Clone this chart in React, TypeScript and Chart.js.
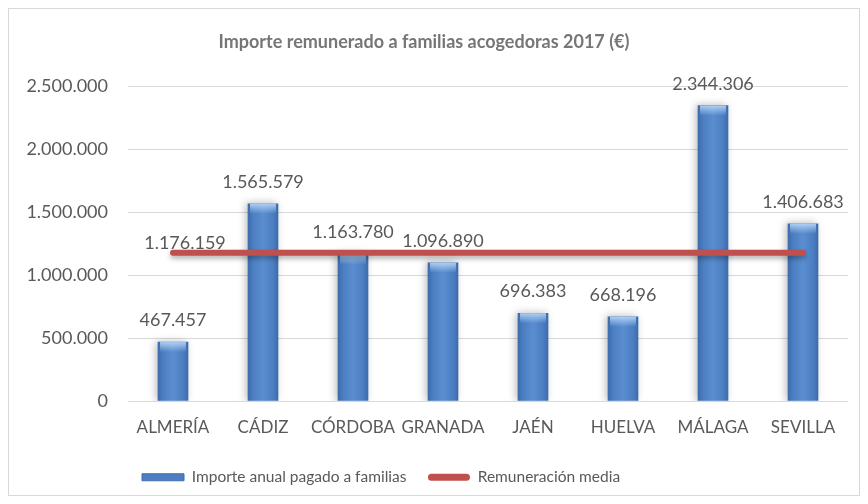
import React, { useEffect, useRef } from 'react';
import { Chart, registerables } from 'chart.js';

Chart.register(...registerables);

const titleText = 'Importe remunerado a familias acogedoras 2017 (€)';
const categories = ['ALMERÍA', 'CÁDIZ', 'CÓRDOBA', 'GRANADA', 'JAÉN', 'HUELVA', 'MÁLAGA', 'SEVILLA'];
const importeAnual = [467457, 1565579, 1163780, 1096890, 696383, 668196, 2344306, 1406683];
const remuneracionMedia = [1176159, 1176159, 1176159, 1176159, 1176159, 1176159, 1176159, 1176159];
const seriesNames = ['Importe anual pagado a familias', 'Remuneración media'];
const yMin = 0;
const yMax = 2500000;
const yStep = 500000;

const FONT = 'Lato, "Liberation Sans", sans-serif';
const TEXT = '#595959';
const BAR_DARK = '#3D6CAD';
const BAR_MID = '#4C7FC2';
const BAR_LIGHT = '#5A8ED1';
const LINE_RED = '#C0504D';
const LEGEND_PAD = 21.5;
const LEGEND_FONT = 15.5;

const fmt = (n: number) => String(Math.round(n)).replace(/\B(?=(\d{3})+(?!\d))/g, '.');

const shadowPlugin = {
  id: 'shadowPlugin',
  beforeDatasetDraw(chart: any, args: any) {
    const ctx = chart.ctx;
    ctx.save();
    if (args.meta.type === 'bar') {
      ctx.shadowColor = 'rgba(0,0,0,0.28)';
      ctx.shadowBlur = 8;
      ctx.shadowOffsetX = -2;
      ctx.shadowOffsetY = 0;
    } else {
      ctx.shadowColor = 'rgba(0,0,0,0.30)';
      ctx.shadowBlur = 5;
      ctx.shadowOffsetX = 0;
      ctx.shadowOffsetY = 3;
    }
  },
  afterDatasetDraw(chart: any) {
    chart.ctx.restore();
  },
};

const highlightPlugin = {
  id: 'highlightPlugin',
  afterDatasetDraw(chart: any, args: any) {
    if (args.meta.type !== 'bar') return;
    const ctx = chart.ctx;
    ctx.save();
    args.meta.data.forEach((bar: any) => {
      const { x, y, width } = bar.getProps(['x', 'y', 'width'], true);
      const g = ctx.createLinearGradient(0, y, 0, y + 10);
      g.addColorStop(0, 'rgba(190,220,250,0.85)');
      g.addColorStop(1, 'rgba(190,220,250,0)');
      ctx.fillStyle = g;
      ctx.fillRect(x - width / 2 + 2, y, width - 4, 10);
    });
    ctx.restore();
  },
};

const labelsPlugin = {
  id: 'labelsPlugin',
  afterDatasetsDraw(chart: any) {
    const ctx = chart.ctx;
    ctx.save();
    ctx.font = `18px ${FONT}`;
    ctx.fillStyle = TEXT;
    ctx.textAlign = 'center';
    ctx.textBaseline = 'alphabetic';
    const barMeta = chart.getDatasetMeta(0);
    barMeta.data.forEach((bar: any, i: number) => {
      const { x, y } = bar.getProps(['x', 'y'], true);
      ctx.fillText(fmt(chart.data.datasets[0].data[i]), x, y - 16);
    });
    const lineMeta = chart.getDatasetMeta(1);
    const p = lineMeta.data[0];
    if (p) {
      const { x, y } = p.getProps(['x', 'y'], true);
      ctx.fillText(fmt(chart.data.datasets[1].data[0]), x + 12, y - 4);
    }
    ctx.restore();
  },
};

const layoutTweakPlugin = {
  id: 'layoutTweakPlugin',
  afterLayout(chart: any) {
    if (chart.legend) chart.legend.left = 133 - LEGEND_PAD;
    if (chart.titleBlock) chart.titleBlock.right = 830;
  },
};

export default function App() {
  const ref = useRef<HTMLCanvasElement | null>(null);

  useEffect(() => {
    if (!ref.current) return;
    const chart = new Chart(ref.current, {
      type: 'bar',
      data: {
        labels: categories,
        datasets: [
          {
            type: 'bar',
            label: seriesNames[0],
            data: importeAnual,
            order: 2,
            barThickness: 30,
            backgroundColor: (c: any) => {
              const ch = c.chart;
              const xs = ch.scales && ch.scales.x;
              if (!xs || c.type !== 'data') return BAR_MID;
              const x = xs.getPixelForValue(c.dataIndex);
              const g = ch.ctx.createLinearGradient(x - 15, 0, x + 15, 0);
              g.addColorStop(0, BAR_DARK);
              g.addColorStop(0.18, BAR_MID);
              g.addColorStop(0.5, BAR_LIGHT);
              g.addColorStop(0.82, BAR_MID);
              g.addColorStop(1, BAR_DARK);
              return g;
            },
            borderWidth: 0,
          } as any,
          {
            type: 'line',
            label: seriesNames[1],
            data: remuneracionMedia,
            order: 1,
            borderColor: LINE_RED,
            backgroundColor: LINE_RED,
            borderWidth: 6,
            borderCapStyle: 'round',
            pointRadius: 0,
            pointHoverRadius: 0,
            fill: false,
            tension: 0,
          } as any,
        ],
      },
      options: {
        responsive: false,
        animation: false,
        events: [],
        layout: { padding: { left: 0, right: 11, top: 0, bottom: 0 } },
        plugins: {
          title: {
            display: true,
            text: titleText,
            color: '#767676',
            font: { family: FONT, size: 18, weight: 'bold' },
            padding: { top: 22.2, bottom: 33.2 },
          },
          legend: {
            display: true,
            position: 'bottom',
            align: 'start',
            labels: {
              font: { family: FONT, size: LEGEND_FONT },
              color: TEXT,
              boxWidth: 42,
              boxHeight: 7,
              padding: LEGEND_PAD,
              useBorderRadius: true,
              generateLabels: (ch: any) => [
                {
                  text: ch.data.datasets[0].label,
                  fillStyle: BAR_MID,
                  strokeStyle: BAR_DARK,
                  lineWidth: 1,
                  hidden: false,
                  datasetIndex: 0,
                  fontColor: TEXT,
                  borderRadius: 0,
                },
                {
                  text: ch.data.datasets[1].label,
                  fillStyle: LINE_RED,
                  strokeStyle: LINE_RED,
                  lineWidth: 0,
                  hidden: false,
                  datasetIndex: 1,
                  fontColor: TEXT,
                  borderRadius: 3.5,
                },
              ],
            },
          },
          tooltip: { enabled: false },
        },
        scales: {
          x: {
            grid: { display: false, drawTicks: false },
            border: { display: false },
            ticks: {
              color: TEXT,
              font: { family: FONT, size: 17 },
              padding: 16,
              maxRotation: 0,
              minRotation: 0,
              autoSkip: false,
            },
            afterFit: (s: any) => {
              s.height = 486 - (LEGEND_FONT + LEGEND_PAD + 10) - 392;
            },
          },
          y: {
            min: yMin,
            max: yMax,
            grid: { color: '#D9D9D9', drawTicks: false, lineWidth: 1 },
            border: { display: false },
            ticks: {
              stepSize: yStep,
              color: TEXT,
              font: { family: FONT, size: 18 },
              padding: 20,
              callback: (v: any) => fmt(Number(v)),
            },
            afterFit: (s: any) => {
              s.width = 119;
            },
          },
        },
      } as any,
      plugins: [shadowPlugin, highlightPlugin, labelsPlugin, layoutTweakPlugin],
    });
    return () => chart.destroy();
  }, []);

  return (
    <div
      style={{
        width: 852,
        height: 488,
        border: '1px solid #D9D9D9',
        boxSizing: 'border-box',
        background: '#fff',
      }}
    >
      <canvas ref={ref} width={850} height={486} style={{ display: 'block' }} />
    </div>
  );
}
